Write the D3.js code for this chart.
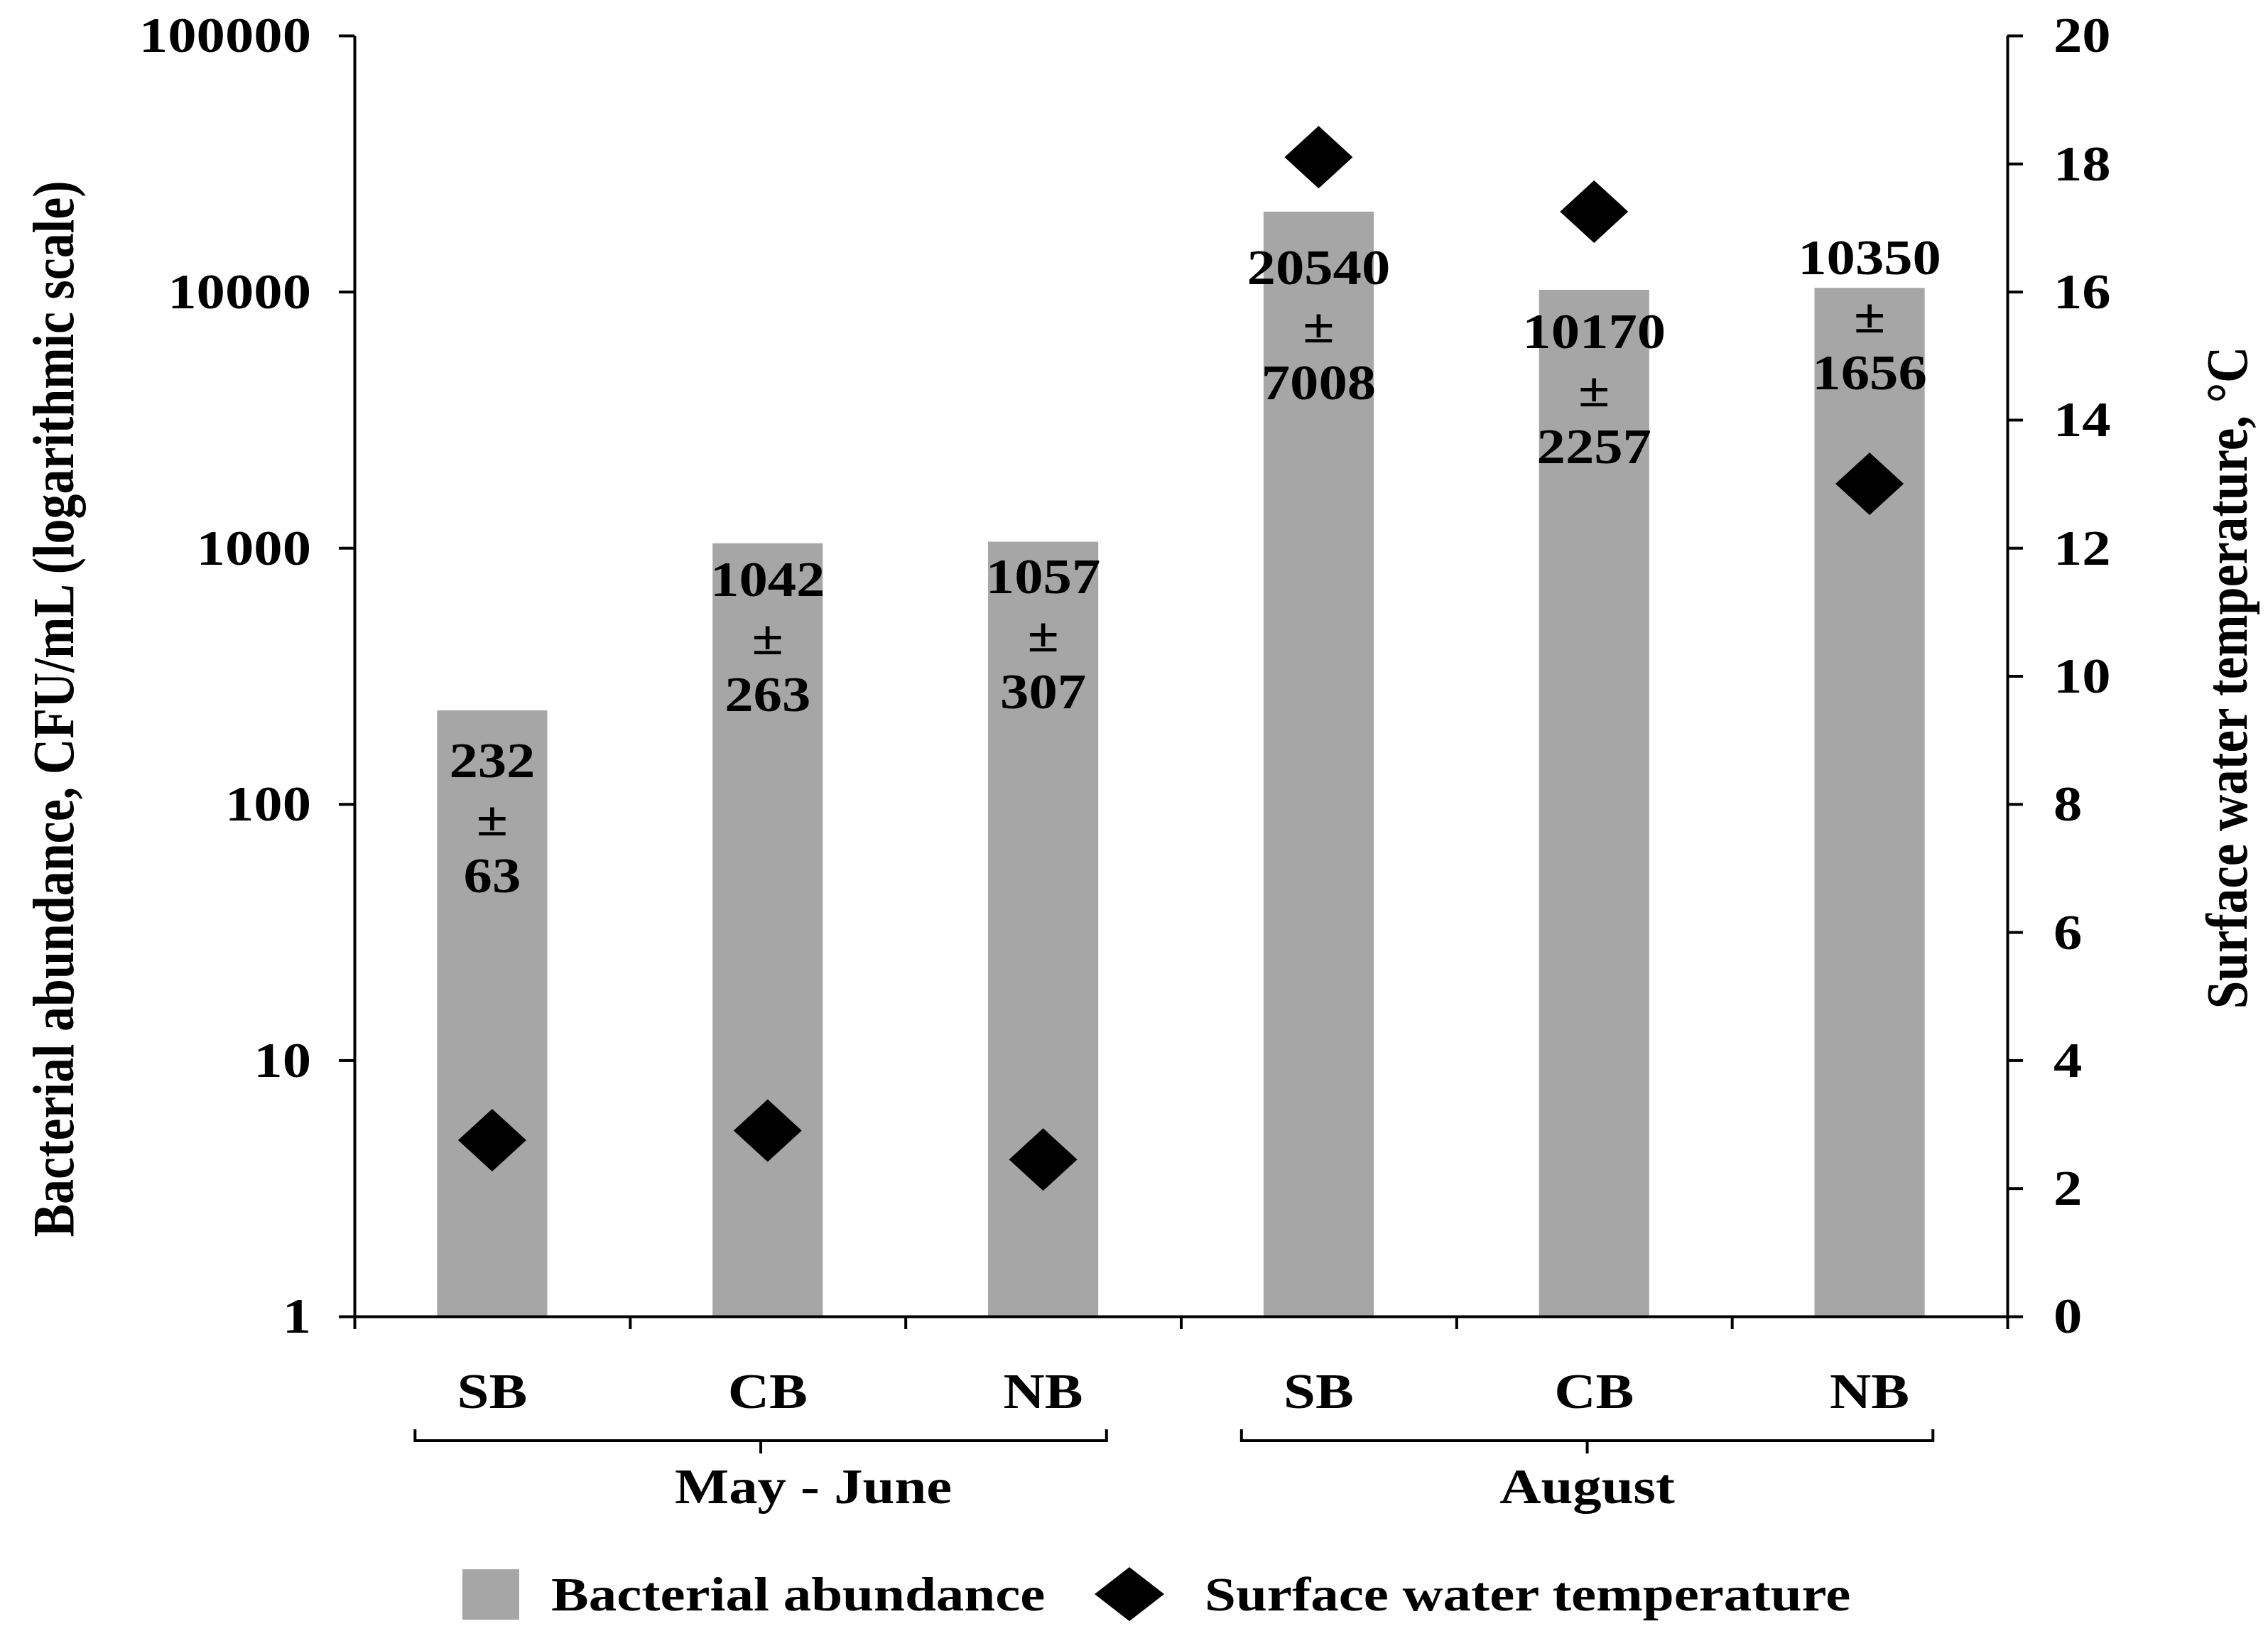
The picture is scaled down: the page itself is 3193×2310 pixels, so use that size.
<!DOCTYPE html>
<html>
<head>
<meta charset="utf-8">
<script src="https://cdn.jsdelivr.net/npm/d3@7"></script>
<style>
html, body { margin: 0; padding: 0; background: #fff; }
svg text { font-family: "Liberation Serif", "Times New Roman", serif; font-weight: bold; fill: #000; }
</style>
</head>
<body>
<div class="entries"></div>
<script>
// data
var sites = ["SB", "CB", "NB", "SB", "CB", "NB"];
var periods = ["May - June", "August"];
var periodOf = [0, 0, 0, 1, 1, 1];
var abundance = [232, 1042, 1057, 20540, 10170, 10350];
var abundanceSd = [63, 263, 307, 7008, 2257, 1656];
var temperature = [2.75, 2.9, 2.45, 18.1, 17.25, 13.0];
var leftTicks = [1, 10, 100, 1000, 10000, 100000];
var rightTicks = [0, 2, 4, 6, 8, 10, 12, 14, 16, 18, 20];

// layout
var w = 3193, h = 2310;
var x0 = 499, x1 = 2826, yTop = 50, yBot = 1853;
var sx = 1.17;            // the original picture is stretched sideways
var fs = 69;
var barColor = "#a6a6a6";
var labelDy = [71, 51, 49, 79, 59, -43];   // first label line below bar top
var periodDx = [74, 0];

var vis = d3.select(".entries").append("svg")
    .attr("width", w)
    .attr("height", h);

var idx = d3.range(sites.length);
var x = d3.scaleBand().domain(idx).range([x0, x1]).padding(0);
var xEdge = d3.scaleLinear().domain([0, sites.length]).range([x0, x1]);
var yL = d3.scaleLog().domain([1, 100000]).range([yBot, yTop]);
var yR = d3.scaleLinear().domain([0, 20]).range([yBot, yTop]);
var bw = x.bandwidth() * 0.4;
var cx = function(i) { return x(i) + x.bandwidth() / 2; };

function label(g, px, py, txt, size, anchor) {
  return g.append("text")
    .attr("transform", "translate(" + px + "," + py + ") scale(" + sx + ",1)")
    .attr("text-anchor", anchor || "middle")
    .attr("dominant-baseline", "central")
    .style("font-size", size + "px")
    .text(txt);
}

// bars
vis.append("g").selectAll("rect").data(idx).enter().append("rect")
  .attr("x", function(i) { return cx(i) - bw / 2; })
  .attr("width", bw)
  .attr("y", function(i) { return yL(abundance[i]); })
  .attr("height", function(i) { return yBot - yL(abundance[i]); })
  .attr("fill", barColor);

// bar labels: mean / ± / sd
var lab = vis.append("g");
idx.forEach(function(i) {
  var top = yL(abundance[i]) + labelDy[i];
  label(lab, cx(i), top, abundance[i], fs);
  label(lab, cx(i), top + 82, "\u00b1", fs);
  label(lab, cx(i), top + 162, abundanceSd[i], fs);
});

// axes
var axisStyle = function(g) {
  g.select(".domain").attr("stroke", "#000").attr("stroke-width", 4);
  g.selectAll(".tick line").attr("stroke", "#000").attr("stroke-width", 4);
  g.selectAll(".tick text").remove();
};
vis.append("g").attr("transform", "translate(" + x0 + ",0)")
  .call(d3.axisLeft(yL).tickValues(leftTicks).tickSize(22).tickSizeOuter(0))
  .call(axisStyle);
vis.append("g").attr("transform", "translate(" + x1 + ",0)")
  .call(d3.axisRight(yR).tickValues(rightTicks).tickSize(22).tickSizeOuter(0))
  .call(axisStyle);
vis.append("g").attr("transform", "translate(0," + yBot + ")")
  .call(d3.axisBottom(xEdge).tickValues(d3.range(sites.length + 1)).tickSize(18).tickSizeOuter(0))
  .call(axisStyle);

var tl = vis.append("g");
leftTicks.forEach(function(v) { label(tl, 438, yL(v), v, fs, "end"); });
rightTicks.forEach(function(v) { label(tl, 2891, yR(v), v, fs, "start"); });

// temperature diamonds
var dia = function(px, py, hw, hh) {
  return "M" + px + "," + (py - hh) + "L" + (px + hw) + "," + py + "L" + px + "," + (py + hh) + "L" + (px - hw) + "," + py + "Z";
};
vis.append("g").selectAll("path").data(idx).enter().append("path")
  .attr("d", function(i) { return dia(cx(i), yR(temperature[i]), 48, 44); })
  .attr("fill", "#000");

// category labels and period brackets
idx.forEach(function(i) { label(vis, cx(i), 1959, sites[i], fs); });
periods.forEach(function(p, k) {
  var members = idx.filter(function(i) { return periodOf[i] === k; });
  var a = x(members[0]) + x.bandwidth() * 0.22;
  var b = x(members[members.length - 1]) + x.bandwidth() * 0.73;
  var m = (a + b) / 2;
  vis.append("path")
    .attr("d", "M" + a + ",2012V2028H" + b + "V2012M" + m + ",2028V2046")
    .attr("fill", "none").attr("stroke", "#000").attr("stroke-width", 4);
  label(vis, m + periodDx[k], 2093, p, fs);
});

// axis titles
vis.append("text")
  .attr("transform", "translate(75,998) rotate(-90) scale(1," + sx + ")")
  .attr("text-anchor", "middle").attr("dominant-baseline", "central")
  .style("font-size", "70px")
  .text("Bacterial abundance, CFU/mL (logarithmic scale)");
vis.append("text")
  .attr("transform", "translate(3135,954) rotate(-90) scale(1," + sx + ")")
  .attr("text-anchor", "middle").attr("dominant-baseline", "central")
  .style("font-size", "71px")
  .text("Surface water temperature, \u00b0C");

// legend
var leg = vis.append("g");
leg.append("rect").attr("x", 651).attr("y", 2209).attr("width", 80).attr("height", 71).attr("fill", barColor);
label(leg, 776, 2244, "Bacterial abundance", 67.5, "start");
leg.append("path").attr("d", dia(1590, 2244, 49, 38)).attr("fill", "#000");
label(leg, 1696, 2244, "Surface water temperature", 67.5, "start");
</script>
</body>
</html>
